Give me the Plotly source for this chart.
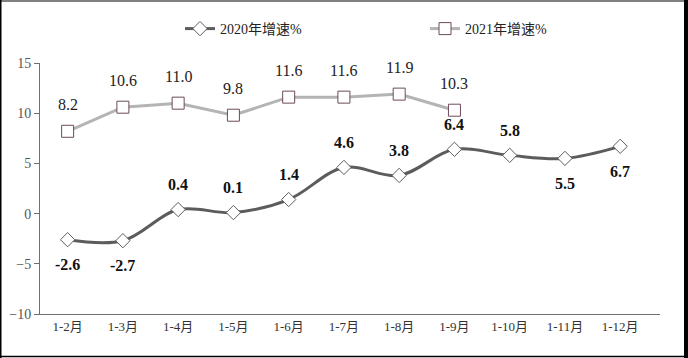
import plotly.graph_objects as go

categories = ["1-2月", "1-3月", "1-4月", "1-5月", "1-6月", "1-7月", "1-8月", "1-9月", "1-10月", "1-11月", "1-12月"]
growth_2020 = [-2.6, -2.7, 0.4, 0.1, 1.4, 4.6, 3.8, 6.4, 5.8, 5.5, 6.7]
growth_2021 = [8.2, 10.6, 11.0, 9.8, 11.6, 11.6, 11.9, 10.3]
above_2020 = [False, False, True, True, True, True, True, True, True, False, False]
y_ticks = [-10, -5, 0, 5, 10, 15]

W, H = 688, 358
ML, MR, MT, MB = 40, 28, 63, 44
serif = "Liberation Serif, Noto Sans CJK SC, serif"

fig = go.Figure()
fig.add_trace(go.Scatter(
    x=categories, y=growth_2020, name="2020年增速%",
    mode="lines+markers",
    line=dict(color="#5c5c5c", width=3, shape="spline", smoothing=1.0),
    marker=dict(symbol="diamond", size=11, color="white", line=dict(color="#5c5c5c", width=1)),
    cliponaxis=False,
))
fig.add_trace(go.Scatter(
    x=categories[:len(growth_2021)], y=growth_2021, name="2021年增速%",
    mode="lines+markers",
    line=dict(color="#b4b4b4", width=3),
    marker=dict(symbol="square", size=12, color="white", line=dict(color="#6b4a5a", width=1)),
    cliponaxis=False,
))

annotations = []
for c, v, up in zip(categories, growth_2020, above_2020):
    annotations.append(dict(x=c, y=v, xref="x", yref="y", text=f"<b>{v:.1f}</b>", showarrow=False,
                            yshift=25 if up else -25, yanchor="middle",
                            font=dict(family=serif, size=16, color="#111111")))
for c, v in zip(categories, growth_2021):
    annotations.append(dict(x=c, y=v, xref="x", yref="y", text=f"{v:.1f}", showarrow=False,
                            yshift=27, yanchor="middle",
                            font=dict(family=serif, size=16, color="#222222")))

pw = W - ML - MR
ph = H - MT - MB
def px(x):
    return (x - ML) / pw
def py(y):
    return 1 - (y - MT) / ph

shapes = [
    dict(type="line", xref="paper", yref="paper", x0=px(0.75), x1=px(0.75), y0=py(0), y1=py(H), line=dict(color="black", width=1.5)),
    dict(type="line", xref="paper", yref="paper", x0=px(686), x1=px(686), y0=py(0), y1=py(H), line=dict(color="black", width=4)),
    dict(type="line", xref="paper", yref="paper", x0=px(0), x1=px(W), y0=py(1), y1=py(1), line=dict(color="black", width=1)),
    dict(type="line", xref="paper", yref="paper", x0=px(0), x1=px(W), y0=py(356.5), y1=py(356.5), line=dict(color="black", width=1.5)),
]

fig.update_layout(
    template="none",
    width=W, height=H,
    margin=dict(l=ML, r=MR, t=MT, b=MB, autoexpand=False),
    paper_bgcolor="white", plot_bgcolor="white",
    font=dict(family=serif, color="#333333"),
    showlegend=True,
    legend=dict(orientation="h", x=px(180), xanchor="left", y=py(29), yanchor="middle",
                font=dict(family=serif, size=14, color="#222222"),
                bgcolor="rgba(0,0,0,0)",
                entrywidthmode="pixels", entrywidth=200),
    xaxis=dict(range=[-0.5, 10.72], showline=True, linecolor="#707070", linewidth=1,
               ticks="", showgrid=False, zeroline=False,
               tickfont=dict(family=serif, size=13, color="#333333")),
    yaxis=dict(range=[-10, 15], tickvals=y_ticks, showline=True, linecolor="#707070", linewidth=1,
               ticks="outside", ticklen=5, tickcolor="#707070", showgrid=False, zeroline=False,
               tickfont=dict(family=serif, size=14, color="#555555")),
    shapes=shapes,
    annotations=annotations,
)

fig.write_html("out.html", config={"displayModeBar": False},
               post_script="document.body.style.margin='0';document.body.style.overflow='hidden';")
